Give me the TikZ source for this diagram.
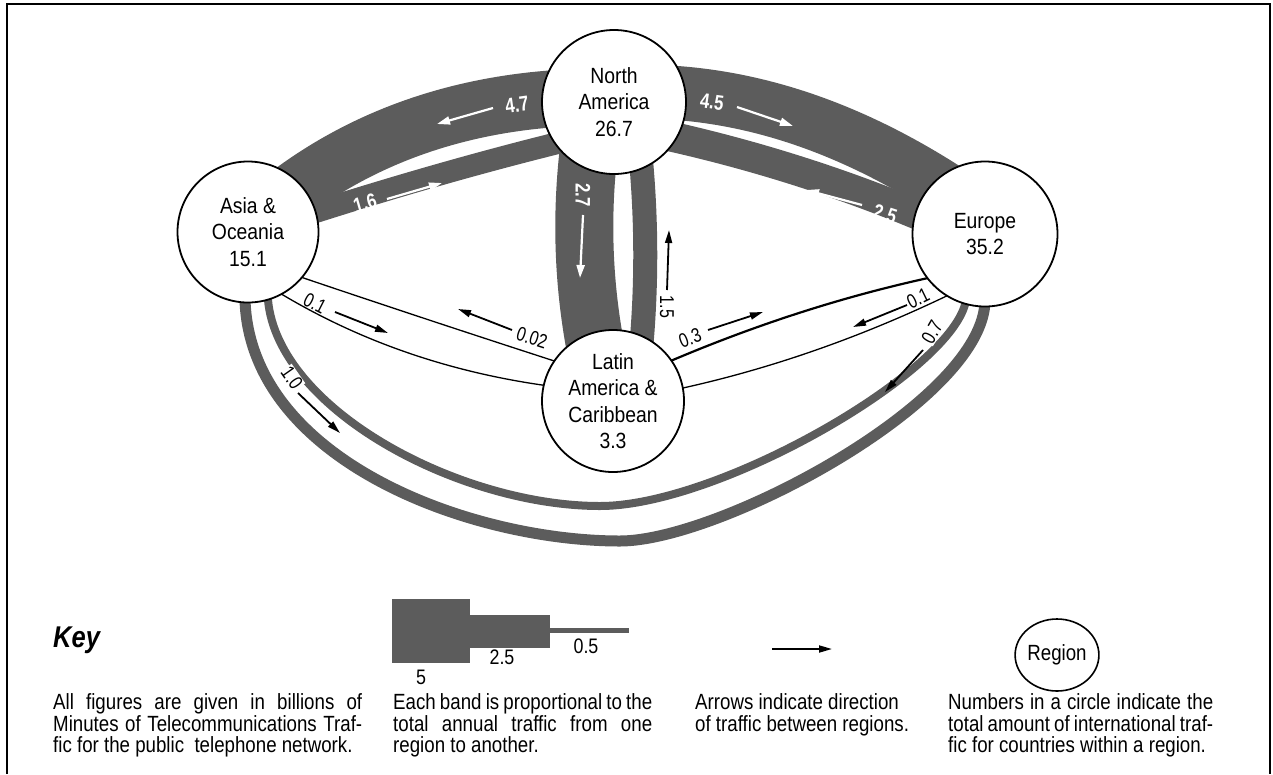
\documentclass[tikz,border=0pt]{standalone}
\usepackage{fontspec}
\setmainfont{Liberation Sans}
\newfontfamily\cfont[FakeStretch=0.88]{Liberation Sans}
\newfontfamily\kfont[FakeStretch=0.85]{Liberation Sans}
\newfontfamily\lfont[FakeStretch=0.8]{Liberation Sans}
\usetikzlibrary{arrows.meta,shapes.geometric}
\definecolor{bandc}{gray}{0.36}
\newcommand{\jl}[2]{\makebox[#1pt][s]{#2}}
\pgfdeclarelayer{bg}
\pgfsetlayers{bg,main}
\tikzset{
  region/.style={circle, draw, line width=1.8pt, fill=white, inner sep=0pt, align=center,
    font=\cfont\fontsize{22}{26.5}\selectfont},
  band/.style={draw=bandc, line cap=butt},
  wlab/.style={text=white, inner sep=0pt, font=\lfont\bfseries\fontsize{21}{21}\selectfont},
  blab/.style={inner sep=0.8pt, font=\lfont\fontsize{20}{20}\selectfont},
  warrow/.style={draw=white, line width=2.2pt, -{Triangle[length=13pt,width=8pt]}},
  karrow/.style={draw=black, line width=1.8pt, -{Triangle[length=13pt,width=7pt]}},
  ktext/.style={inner sep=0pt, font=\kfont\fontsize{22}{22}\selectfont},
  klab/.style={inner sep=0pt, font=\kfont\fontsize{21}{21}\selectfont},
}
\begin{document}
\begin{tikzpicture}[x=1pt,y=-1pt]
\useasboundingbox (0,0) rectangle (1273,774);
\draw[line width=1.5pt] (7,774) -- (7,4) -- (1270,4) -- (1270,774);

% regions
\node[region, minimum size=144pt] (na) at (614,102) {North\\America\\26.7};
\node[region, minimum size=141pt] (asia) at (248,232) {Asia \&\\Oceania\\15.1};
\node[region, minimum size=145pt] (eu) at (985,234) {Europe\\35.2};
\node[region, minimum size=142pt] (la) at (613,401) {Latin\\America \&\\Caribbean\\3.3};

\begin{pgfonlayer}{bg}
% long arcs Asia - Europe
\draw[band, line width=11pt] ([shift={(-3,38)}]asia.center) -- (245,300)
  .. controls (250,460) and (470,541) .. (620,541)
  .. controls (720,541) and (985,400) .. (985,300) -- ([shift={(0,36)}]eu.center);
\draw[band, line width=8pt] ([shift={(17,38)}]asia.center) -- (268,300)
  .. controls (278,410) and (460,506) .. (600,506)
  .. controls (720,506) and (955,370) .. (966,300) -- ([shift={(-19,36)}]eu.center);
% thin lines
\draw[line width=1.3pt] ([shift={(32,38)}]asia.center) .. controls (380,304) and (480,337) .. ([shift={(-37,-33)}]la.center);
\draw[line width=1.3pt] ([shift={(14,50)}]asia.center) .. controls (352,340) and (453,375) .. ([shift={(-48,-13)}]la.center);
\draw[line width=2.2pt] ([shift={(39,-32)}]la.center) .. controls (752,325) and (852,293) .. ([shift={(-33,39)}]eu.center);
\draw[line width=1.3pt] ([shift={(-22,54)}]eu.center) .. controls (862,338) and (760,373) .. ([shift={(46,-8)}]la.center);
% bands
\draw[band, line width=57pt] ([shift={(37,-35)}]asia.center) .. controls (362,138) and (456,104) .. ([shift={(-49,-4)}]na.center);
\draw[band, line width=22pt] ([shift={(52,-15)}]asia.center) .. controls (390,188) and (480,162) .. ([shift={(-44,38)}]na.center);
\draw[band, line width=54pt] ([shift={(46,-10)}]na.center) .. controls (757,96) and (853,129) .. ([shift={(-35,-42)}]eu.center);
\draw[band, line width=30pt] ([shift={(41,31)}]na.center) .. controls (748,153) and (842,182) .. ([shift={(-50,-12)}]eu.center);
\draw[band, line width=58pt] ([shift={(-24,38)}]na.center) .. controls (580,217) and (583,293) .. ([shift={(-13,-31)}]la.center);
\draw[band, line width=24pt] ([shift={(26,48)}]na.center) .. controls (647,220) and (647,290) .. ([shift={(27,-41)}]la.center);
\end{pgfonlayer}

% labels and arrows on bands
\node[wlab, rotate=8] (l47) at (517,105) {4.7};
\draw[warrow] (493,108) -- (437,124);
\node[wlab, rotate=16] (l16) at (365,203) {1.6};
\draw[warrow] (387,199) -- (442,183);
\node[wlab, rotate=-8] (l45) at (712,102) {4.5};
\draw[warrow] (737,107) -- (793,126);
\node[wlab, rotate=-18] (l25) at (885,214) {2.5};
\draw[warrow] (862,205) -- (806,190);
\node[wlab, rotate=-90] (l27) at (583,195) {2.7};
\draw[warrow] (583,215) -- (580,278);
\node[blab, rotate=-90] (l15) at (667,307) {1.5};
\draw[karrow] (667,290) -- (669,230);
\node[blab, rotate=-27] (l01a) at (315,303) {0.1};
\draw[karrow] (335,312) -- (388,333);
\node[blab, rotate=-18] (l002) at (532,338) {0.02};
\draw[karrow] (512,330) -- (458,309);
\node[blab, rotate=21] (l03) at (690,338) {0.3};
\draw[karrow] (708,330) -- (763,312);
\node[blab, rotate=26] (l01b) at (918,298) {0.1};
\draw[karrow] (907,305) -- (853,327);
\node[blab, rotate=-55, fill=white] (l10) at (292,378) {1.0};
\draw[karrow] (298,393) -- (340,433);
\node[blab, rotate=60, fill=white] (l07) at (932,332) {0.7};
\draw[karrow] (923,350) -- (885,392);

% key
\node[inner sep=0pt, anchor=west, font=\kfont\bfseries\itshape\fontsize{30}{30}\selectfont] (key) at (53,640) {Key};
\fill[bandc] (392,599) rectangle (470,663);
\fill[bandc] (470,615) rectangle (550,648);
\fill[bandc] (550,628) rectangle (629,633);
\node[klab] (k5) at (421,677) {5};
\node[klab] (k25) at (502,657) {2.5};
\node[klab] (k05) at (586,646) {0.5};
\coordinate (ka) at (772,649);
\coordinate (kb) at (832,649);
\draw[karrow] (ka) -- (kb);
\node[ellipse, draw, line width=1.6pt, minimum width=66pt, minimum height=72pt, inner sep=0pt,
  font=\kfont\fontsize{22}{22}\selectfont] (kreg) at (1057,655) {Region};

\node[ktext, anchor=base west] (t11) at (53,709) {\jl{309}{All figures are given in billions of}};
\node[ktext, anchor=base west] (t12) at (53,731) {\jl{309}{Minutes of Telecommunications Traf-}};
\node[ktext, anchor=base west] (t13) at (53,752) {fic for the public\ \ telephone network.};

\node[ktext, anchor=base west] (t21) at (393,709) {\jl{259}{Each band is proportional to the}};
\node[ktext, anchor=base west] (t22) at (393,731) {\jl{259}{total annual traffic from one}};
\node[ktext, anchor=base west] (t23) at (393,752) {region to another.};

\node[ktext, anchor=base west] (t31) at (695,709) {Arrows indicate direction};
\node[ktext, anchor=base west] (t32) at (695,731) {of traffic between regions.};

\node[ktext, anchor=base west] (t41) at (948,709) {\jl{265}{Numbers in a circle indicate the}};
\node[ktext, anchor=base west] (t42) at (948,731) {\jl{265}{total amount of international traf-}};
\node[ktext, anchor=base west] (t43) at (948,752) {fic for countries within a region.};
\end{tikzpicture}
\end{document}
